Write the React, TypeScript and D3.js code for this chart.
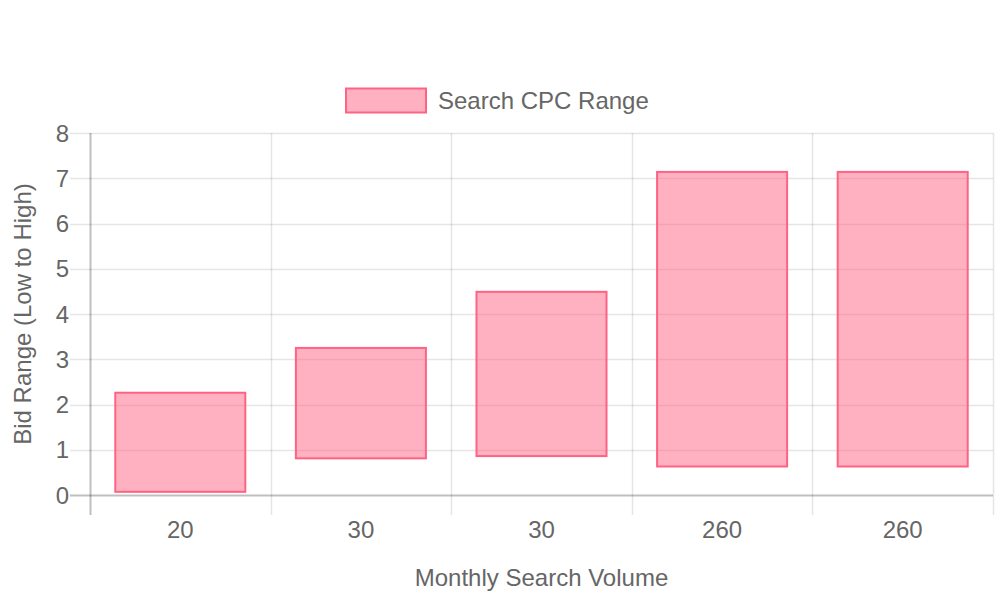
import React from "react";
import * as d3 from "d3";

// Monthly search volume per keyword (category labels) and CPC bid ranges
const volumes: string[] = ["20", "30", "30", "260", "260"];
const bidLow: number[] = [0.07, 0.81, 0.86, 0.63, 0.63];
const bidHigh: number[] = [2.26, 3.25, 4.49, 7.14, 7.14];
const yTicks: number[] = [0, 1, 2, 3, 4, 5, 6, 7, 8];

const W = 1000;
const H = 600;
const margin = { left: 90, right: 7, top: 133, bottom: 105 };
const FONT = "'Liberation Sans', Arial, Helvetica, sans-serif";
const FS = 24;
const TEXT = "#666";
const GRID = "rgba(0,0,0,0.1)";
const AXIS = "rgba(0,0,0,0.25)";
const FILL = "rgba(255,99,132,0.5)";
const STROKE = "rgb(255,99,132)";

export default function App() {
  const x0 = margin.left;
  const x1 = W - margin.right;
  const y0 = H - margin.bottom;
  const y1 = margin.top;

  const x = d3
    .scaleBand<number>()
    .domain(volumes.map((_, i) => i))
    .range([x0, x1])
    .padding(0);
  const y = d3.scaleLinear().domain([0, 8]).range([y0, y1]);

  const step = x.bandwidth();
  const barW = step * 0.9 * 0.8;
  const tickLen = 20;

  const boundaries = d3.range(volumes.length + 1).map((i) => x0 + i * step);

  return (
    <svg width={W} height={H} style={{ display: "block", position: "absolute", left: 0, top: 0 }}>
      <rect width={W} height={H} fill="#fff" />

      {/* Legend */}
      <g>
        <rect x={346} y={88.5} width={80} height={24} fill={FILL} stroke={STROKE} strokeWidth={2} />
        <text x={438} y={100.5} dominantBaseline="central" fontFamily={FONT} fontSize={FS} fill={TEXT}>
          Search CPC Range
        </text>
      </g>

      {/* Horizontal grid lines with tick marks */}
      {yTicks.map((t) => (
        <g key={"y" + t}>
          <line
            x1={x0 - tickLen}
            x2={x1}
            y1={Math.round(y(t)) + 0.5}
            y2={Math.round(y(t)) + 0.5}
            stroke={t === 0 ? AXIS : GRID}
            strokeWidth={t === 0 ? 2 : 1.5}
          />
          <text
            x={x0 - 21}
            y={y(t)}
            textAnchor="end"
            dominantBaseline="central"
            fontFamily={FONT}
            fontSize={FS}
            fill={TEXT}
          >
            {t}
          </text>
        </g>
      ))}

      {/* Vertical grid lines at category boundaries */}
      {boundaries.map((bx, i) => (
        <line
          key={"x" + i}
          x1={Math.round(bx) + 0.5}
          x2={Math.round(bx) + 0.5}
          y1={y1}
          y2={y0 + tickLen}
          stroke={i === 0 ? AXIS : GRID}
          strokeWidth={i === 0 ? 2 : 1.5}
        />
      ))}

      {/* Floating range bars */}
      {volumes.map((_, i) => {
        const cx = (x(i) as number) + step / 2;
        const top = y(bidHigh[i]);
        const bot = y(bidLow[i]);
        return (
          <rect
            key={"b" + i}
            x={cx - barW / 2}
            y={top}
            width={barW}
            height={bot - top}
            fill={FILL}
            stroke={STROKE}
            strokeWidth={2}
          />
        );
      })}

      {/* X tick labels */}
      {volumes.map((v, i) => (
        <text
          key={"xl" + i}
          x={(x(i) as number) + step / 2}
          y={529}
          textAnchor="middle"
          dominantBaseline="central"
          fontFamily={FONT}
          fontSize={FS}
          fill={TEXT}
        >
          {v}
        </text>
      ))}

      {/* Axis titles */}
      <text
        x={(x0 + x1) / 2}
        y={577}
        textAnchor="middle"
        dominantBaseline="central"
        fontFamily={FONT}
        fontSize={FS}
        fill={TEXT}
      >
        Monthly Search Volume
      </text>
      <text
        transform={`translate(22, ${(y0 + y1) / 2}) rotate(-90)`}
        textAnchor="middle"
        dominantBaseline="central"
        fontFamily={FONT}
        fontSize={FS}
        fill={TEXT}
      >
        Bid Range (Low to High)
      </text>
    </svg>
  );
}
